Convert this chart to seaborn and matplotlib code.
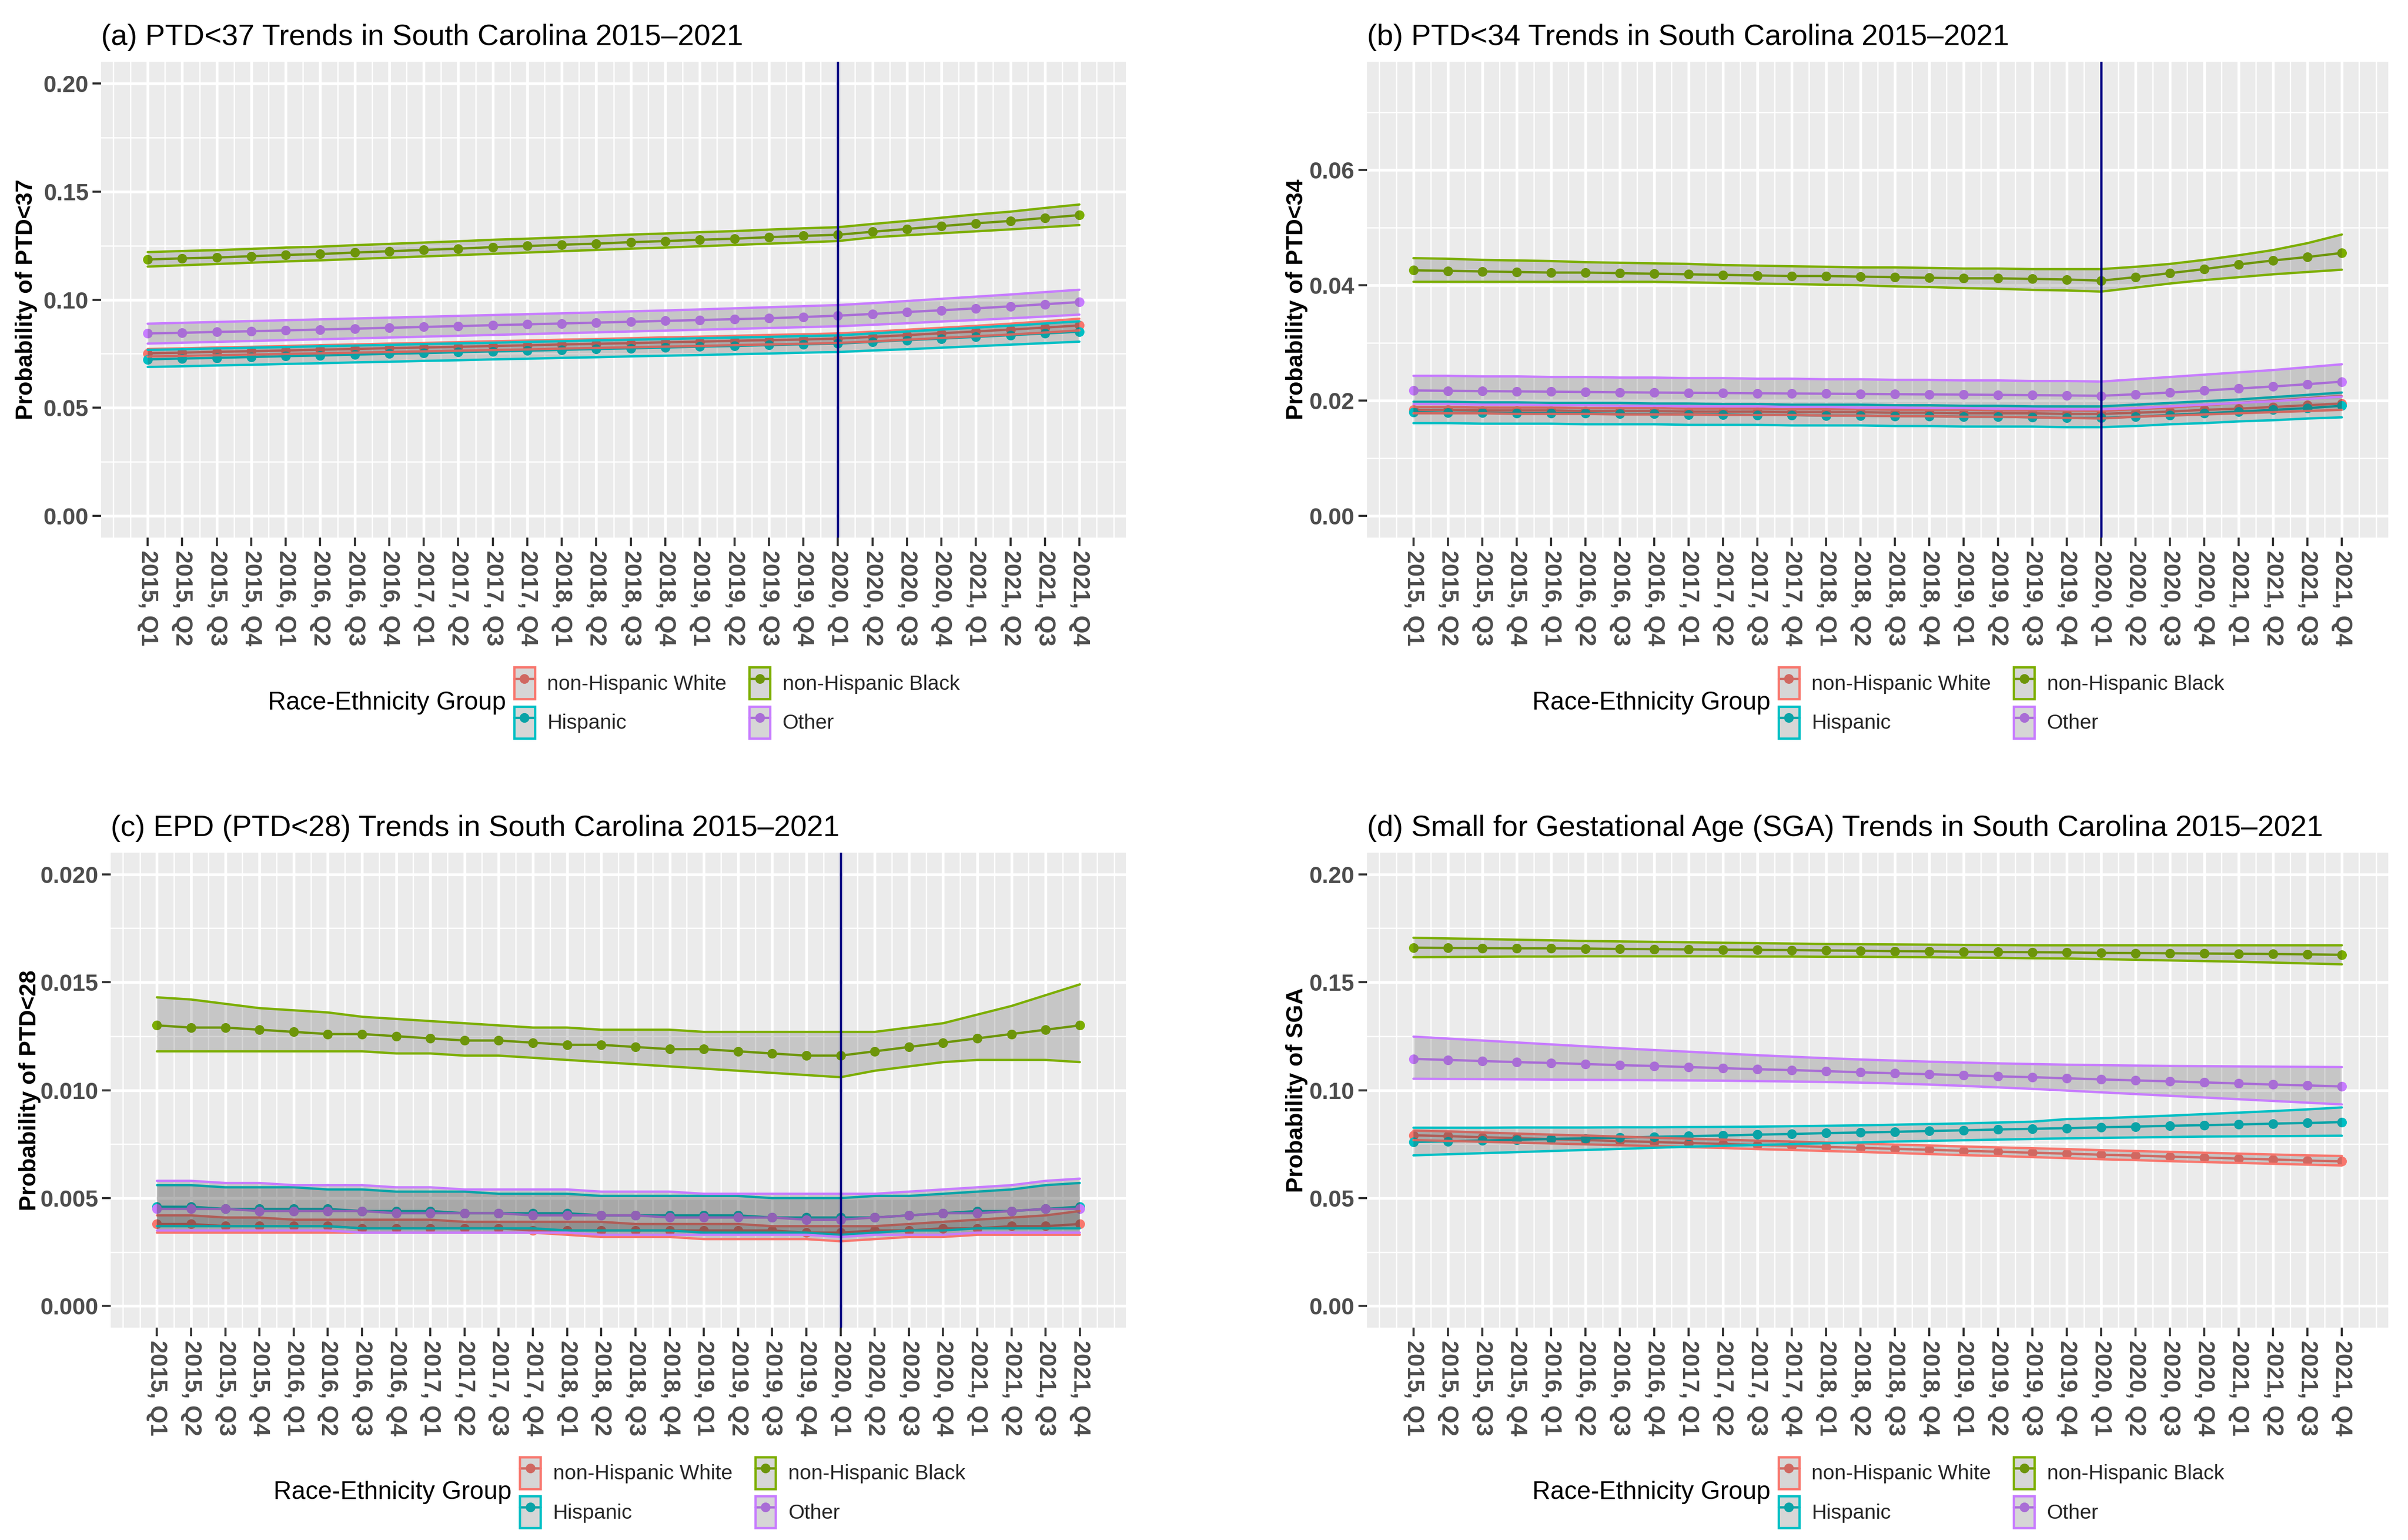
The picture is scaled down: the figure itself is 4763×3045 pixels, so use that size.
import numpy as np
import pandas as pd
import seaborn as sns
import matplotlib.pyplot as plt
from matplotlib.lines import Line2D
from matplotlib.patches import Patch
from matplotlib.ticker import MultipleLocator, FormatStrFormatter

# quarters on the x axis
quarters = ["2015, Q1", "2015, Q2", "2015, Q3", "2015, Q4",
            "2016, Q1", "2016, Q2", "2016, Q3", "2016, Q4",
            "2017, Q1", "2017, Q2", "2017, Q3", "2017, Q4",
            "2018, Q1", "2018, Q2", "2018, Q3", "2018, Q4",
            "2019, Q1", "2019, Q2", "2019, Q3", "2019, Q4",
            "2020, Q1", "2020, Q2", "2020, Q3", "2020, Q4",
            "2021, Q1", "2021, Q2", "2021, Q3", "2021, Q4"]
covid_start = "2020, Q1"

groups = ["non-Hispanic White", "non-Hispanic Black", "Hispanic", "Other"]
colors = ["#F8766D", "#7CAE00", "#00BFC4", "#C77CFF"]
legend_order = ["non-Hispanic White", "Hispanic", "non-Hispanic Black", "Other"]

# ---- (a) PTD<37 ----
a_white = [0.0752, 0.0755, 0.0759, 0.0762, 0.0765, 0.0769, 0.0772, 0.0776, 0.0779, 0.0782, 0.0786, 0.0789, 0.0793, 0.0796,
           0.0799, 0.0803, 0.0806, 0.0810, 0.0813, 0.0816, 0.0820, 0.0828, 0.0836, 0.0845, 0.0853, 0.0862, 0.0871, 0.0881]
a_white_hi = [0.0772, 0.0775, 0.0779, 0.0782, 0.0786, 0.0790, 0.0793, 0.0797, 0.0800, 0.0804, 0.0808, 0.0811, 0.0815, 0.0818,
              0.0822, 0.0826, 0.0829, 0.0833, 0.0837, 0.0840, 0.0844, 0.0852, 0.0861, 0.0870, 0.0879, 0.0889, 0.0900, 0.0912]
a_white_lo = [0.0737, 0.0740, 0.0743, 0.0746, 0.0749, 0.0752, 0.0755, 0.0758, 0.0761, 0.0764, 0.0767, 0.0770, 0.0774, 0.0777,
              0.0780, 0.0783, 0.0786, 0.0790, 0.0793, 0.0796, 0.0800, 0.0807, 0.0815, 0.0823, 0.0831, 0.0839, 0.0848, 0.0858]
a_black = [0.1186, 0.1191, 0.1195, 0.1201, 0.1207, 0.1211, 0.1218, 0.1224, 0.1230, 0.1236, 0.1243, 0.1248, 0.1254, 0.1259,
           0.1266, 0.1271, 0.1277, 0.1282, 0.1289, 0.1295, 0.1300, 0.1314, 0.1327, 0.1340, 0.1353, 0.1364, 0.1378, 0.1391]
a_black_hi = [0.1220, 0.1225, 0.1229, 0.1235, 0.1241, 0.1245, 0.1252, 0.1258, 0.1264, 0.1270, 0.1277, 0.1282, 0.1288, 0.1294,
              0.1301, 0.1306, 0.1312, 0.1317, 0.1324, 0.1330, 0.1335, 0.1350, 0.1364, 0.1379, 0.1394, 0.1407, 0.1424, 0.1440]
a_black_lo = [0.1153, 0.1159, 0.1165, 0.1171, 0.1177, 0.1182, 0.1188, 0.1194, 0.1200, 0.1206, 0.1212, 0.1218, 0.1224, 0.1230,
              0.1236, 0.1241, 0.1247, 0.1253, 0.1259, 0.1265, 0.1271, 0.1288, 0.1298, 0.1307, 0.1316, 0.1325, 0.1335, 0.1345]
a_hisp = [0.0724, 0.0728, 0.0731, 0.0735, 0.0739, 0.0742, 0.0746, 0.0750, 0.0753, 0.0757, 0.0761, 0.0764, 0.0768, 0.0772,
          0.0775, 0.0779, 0.0783, 0.0786, 0.0790, 0.0794, 0.0797, 0.0805, 0.0813, 0.0820, 0.0828, 0.0836, 0.0844, 0.0852]
a_hisp_hi = [0.0768, 0.0771, 0.0775, 0.0778, 0.0781, 0.0785, 0.0788, 0.0791, 0.0795, 0.0798, 0.0801, 0.0805, 0.0808, 0.0812,
             0.0815, 0.0818, 0.0822, 0.0825, 0.0828, 0.0832, 0.0835, 0.0844, 0.0853, 0.0862, 0.0871, 0.0880, 0.0890, 0.0900]
a_hisp_lo = [0.0689, 0.0692, 0.0696, 0.0699, 0.0703, 0.0706, 0.0710, 0.0713, 0.0717, 0.0720, 0.0724, 0.0727, 0.0731, 0.0734,
             0.0738, 0.0741, 0.0744, 0.0748, 0.0751, 0.0755, 0.0758, 0.0765, 0.0771, 0.0778, 0.0785, 0.0792, 0.0799, 0.0806]
a_other = [0.0844, 0.0847, 0.0851, 0.0854, 0.0858, 0.0862, 0.0866, 0.0870, 0.0874, 0.0878, 0.0882, 0.0886, 0.0890, 0.0894,
           0.0898, 0.0902, 0.0906, 0.0910, 0.0914, 0.0920, 0.0926, 0.0934, 0.0943, 0.0951, 0.0960, 0.0969, 0.0979, 0.0989]
a_other_hi = [0.0889, 0.0893, 0.0897, 0.0901, 0.0905, 0.0909, 0.0913, 0.0917, 0.0921, 0.0925, 0.0929, 0.0933, 0.0937, 0.0941,
              0.0946, 0.0950, 0.0955, 0.0960, 0.0965, 0.0970, 0.0975, 0.0984, 0.0994, 0.1004, 0.1014, 0.1024, 0.1035, 0.1046]
a_other_lo = [0.0797, 0.0801, 0.0805, 0.0809, 0.0813, 0.0817, 0.0821, 0.0825, 0.0829, 0.0833, 0.0837, 0.0841, 0.0845, 0.0849,
              0.0853, 0.0857, 0.0861, 0.0865, 0.0869, 0.0873, 0.0877, 0.0884, 0.0891, 0.0899, 0.0906, 0.0914, 0.0922, 0.0931]

# ---- (b) PTD<34 ----
b_white = [0.0184, 0.0184, 0.0183, 0.0183, 0.0183, 0.0182, 0.0182, 0.0182, 0.0181, 0.0181, 0.0181, 0.0180, 0.0180, 0.0180,
           0.0179, 0.0179, 0.0178, 0.0178, 0.0178, 0.0177, 0.0177, 0.0179, 0.0181, 0.0184, 0.0186, 0.0189, 0.0192, 0.0195]
b_white_hi = [0.0189, 0.0189, 0.0188, 0.0188, 0.0188, 0.0187, 0.0187, 0.0187, 0.0186, 0.0186, 0.0186, 0.0185, 0.0185, 0.0185,
              0.0184, 0.0184, 0.0184, 0.0183, 0.0183, 0.0183, 0.0182, 0.0185, 0.0188, 0.0192, 0.0196, 0.0200, 0.0204, 0.0208]
b_white_lo = [0.0178, 0.0178, 0.0178, 0.0177, 0.0177, 0.0177, 0.0176, 0.0176, 0.0176, 0.0175, 0.0175, 0.0175, 0.0174, 0.0174,
              0.0173, 0.0173, 0.0172, 0.0172, 0.0171, 0.0170, 0.0169, 0.0172, 0.0174, 0.0176, 0.0178, 0.0180, 0.0182, 0.0184]
b_black = [0.0426, 0.0425, 0.0424, 0.0423, 0.0422, 0.0422, 0.0421, 0.0420, 0.0419, 0.0418, 0.0417, 0.0416, 0.0416, 0.0415,
           0.0414, 0.0413, 0.0412, 0.0412, 0.0411, 0.0410, 0.0408, 0.0414, 0.0421, 0.0428, 0.0436, 0.0443, 0.0449, 0.0456]
b_black_hi = [0.0447, 0.0446, 0.0444, 0.0443, 0.0442, 0.0440, 0.0439, 0.0438, 0.0437, 0.0435, 0.0434, 0.0433, 0.0432, 0.0431,
              0.0431, 0.0430, 0.0429, 0.0429, 0.0428, 0.0428, 0.0428, 0.0432, 0.0437, 0.0444, 0.0452, 0.0461, 0.0473, 0.0488]
b_black_lo = [0.0406, 0.0406, 0.0406, 0.0406, 0.0406, 0.0406, 0.0406, 0.0406, 0.0405, 0.0404, 0.0403, 0.0402, 0.0401, 0.0400,
              0.0398, 0.0397, 0.0395, 0.0394, 0.0392, 0.0391, 0.0389, 0.0396, 0.0403, 0.0409, 0.0414, 0.0419, 0.0423, 0.0427]
b_hisp = [0.0180, 0.0179, 0.0179, 0.0178, 0.0178, 0.0178, 0.0177, 0.0177, 0.0176, 0.0176, 0.0175, 0.0175, 0.0174, 0.0174,
          0.0173, 0.0173, 0.0172, 0.0172, 0.0171, 0.0170, 0.0170, 0.0172, 0.0175, 0.0178, 0.0181, 0.0184, 0.0187, 0.0191]
b_hisp_hi = [0.0198, 0.0198, 0.0197, 0.0197, 0.0196, 0.0196, 0.0196, 0.0195, 0.0195, 0.0194, 0.0194, 0.0193, 0.0193, 0.0193,
             0.0192, 0.0192, 0.0191, 0.0191, 0.0190, 0.0190, 0.0190, 0.0193, 0.0196, 0.0199, 0.0202, 0.0206, 0.0210, 0.0214]
b_hisp_lo = [0.0161, 0.0161, 0.0160, 0.0160, 0.0160, 0.0159, 0.0159, 0.0159, 0.0158, 0.0158, 0.0158, 0.0157, 0.0157, 0.0157,
             0.0156, 0.0156, 0.0155, 0.0155, 0.0155, 0.0154, 0.0154, 0.0156, 0.0159, 0.0161, 0.0164, 0.0166, 0.0169, 0.0171]
b_other = [0.02176, 0.02170, 0.02165, 0.02160, 0.02155, 0.02150, 0.02145, 0.02140, 0.02136, 0.02132, 0.02128, 0.02124, 0.02120, 0.02116,
           0.02112, 0.02108, 0.02104, 0.02100, 0.02095, 0.02090, 0.02084, 0.02110, 0.02140, 0.02175, 0.02210, 0.02245, 0.02285, 0.02329]
b_other_hi = [0.0243, 0.0243, 0.0242, 0.0242, 0.0241, 0.0241, 0.0240, 0.0240, 0.0239, 0.0239, 0.0238, 0.0238, 0.0237, 0.0237,
              0.0236, 0.0236, 0.0235, 0.0235, 0.0234, 0.0234, 0.0233, 0.0237, 0.0241, 0.0245, 0.0249, 0.0253, 0.0258, 0.0263]
b_other_lo = [0.0194, 0.0194, 0.0193, 0.0193, 0.0192, 0.0192, 0.0191, 0.0191, 0.0190, 0.0190, 0.0190, 0.0189, 0.0189, 0.0188,
              0.0188, 0.0187, 0.0187, 0.0186, 0.0186, 0.0185, 0.0185, 0.0187, 0.0190, 0.0193, 0.0196, 0.0199, 0.0203, 0.0207]

# ---- (c) EPD (PTD<28) ----
c_white = [0.0038, 0.0038, 0.0037, 0.0037, 0.0037, 0.0037, 0.0036, 0.0036, 0.0036, 0.0036, 0.0036, 0.0035, 0.0035, 0.0035,
           0.0035, 0.0035, 0.0035, 0.0035, 0.0035, 0.0034, 0.0034, 0.0035, 0.0035, 0.0036, 0.0036, 0.0037, 0.0037, 0.0038]
c_white_hi = [0.0042, 0.0042, 0.0041, 0.0041, 0.0040, 0.0040, 0.0040, 0.0040, 0.0040, 0.0039, 0.0039, 0.0039, 0.0039, 0.0039,
              0.0038, 0.0038, 0.0038, 0.0038, 0.0037, 0.0037, 0.0037, 0.0037, 0.0038, 0.0039, 0.0040, 0.0041, 0.0042, 0.0044]
c_white_lo = [0.0034, 0.0034, 0.0034, 0.0034, 0.0034, 0.0034, 0.0034, 0.0034, 0.0034, 0.0034, 0.0034, 0.0034, 0.0033, 0.0032,
              0.0032, 0.0032, 0.0031, 0.0031, 0.0031, 0.0031, 0.0030, 0.0031, 0.0032, 0.0032, 0.0033, 0.0033, 0.0033, 0.0033]
c_black = [0.0130, 0.0129, 0.0129, 0.0128, 0.0127, 0.0126, 0.0126, 0.0125, 0.0124, 0.0123, 0.0123, 0.0122, 0.0121, 0.0121,
           0.0120, 0.0119, 0.0119, 0.0118, 0.0117, 0.0116, 0.0116, 0.0118, 0.0120, 0.0122, 0.0124, 0.0126, 0.0128, 0.0130]
c_black_hi = [0.0143, 0.0142, 0.0140, 0.0138, 0.0137, 0.0136, 0.0134, 0.0133, 0.0132, 0.0131, 0.0130, 0.0129, 0.0129, 0.0128,
              0.0128, 0.0128, 0.0127, 0.0127, 0.0127, 0.0127, 0.0127, 0.0127, 0.0129, 0.0131, 0.0135, 0.0139, 0.0144, 0.0149]
c_black_lo = [0.0118, 0.0118, 0.0118, 0.0118, 0.0118, 0.0118, 0.0118, 0.0117, 0.0117, 0.0116, 0.0116, 0.0115, 0.0114, 0.0113,
              0.0112, 0.0111, 0.0110, 0.0109, 0.0108, 0.0107, 0.0106, 0.0109, 0.0111, 0.0113, 0.0114, 0.0114, 0.0114, 0.0113]
c_hisp = [0.0046, 0.0046, 0.0045, 0.0045, 0.0045, 0.0045, 0.0044, 0.0044, 0.0044, 0.0043, 0.0043, 0.0043, 0.0043, 0.0042,
          0.0042, 0.0042, 0.0042, 0.0042, 0.0041, 0.0041, 0.0041, 0.0041, 0.0042, 0.0043, 0.0044, 0.0044, 0.0045, 0.0046]
c_hisp_hi = [0.0056, 0.0056, 0.0055, 0.0055, 0.0055, 0.0054, 0.0054, 0.0053, 0.0053, 0.0053, 0.0052, 0.0052, 0.0052, 0.0051,
             0.0051, 0.0051, 0.0051, 0.0051, 0.0050, 0.0050, 0.0050, 0.0051, 0.0051, 0.0052, 0.0053, 0.0054, 0.0056, 0.0057]
c_hisp_lo = [0.0037, 0.0037, 0.0037, 0.0037, 0.0037, 0.0037, 0.0036, 0.0036, 0.0036, 0.0036, 0.0036, 0.0036, 0.0035, 0.0035,
             0.0035, 0.0035, 0.0034, 0.0034, 0.0034, 0.0034, 0.0033, 0.0034, 0.0035, 0.0035, 0.0036, 0.0036, 0.0036, 0.0036]
c_other = [0.0045, 0.0045, 0.0045, 0.0044, 0.0044, 0.0044, 0.0044, 0.0043, 0.0043, 0.0043, 0.0043, 0.0042, 0.0042, 0.0042,
           0.0042, 0.0041, 0.0041, 0.0041, 0.0041, 0.0040, 0.0040, 0.0041, 0.0042, 0.0043, 0.0043, 0.0044, 0.0045, 0.0045]
c_other_hi = [0.0058, 0.0058, 0.0057, 0.0057, 0.0056, 0.0056, 0.0056, 0.0055, 0.0055, 0.0054, 0.0054, 0.0054, 0.0054, 0.0053,
              0.0053, 0.0053, 0.0052, 0.0052, 0.0052, 0.0052, 0.0052, 0.0052, 0.0053, 0.0054, 0.0055, 0.0056, 0.0058, 0.0059]
c_other_lo = [0.0035, 0.0035, 0.0035, 0.0035, 0.0035, 0.0035, 0.0034, 0.0034, 0.0034, 0.0034, 0.0034, 0.0034, 0.0034, 0.0033,
              0.0033, 0.0033, 0.0033, 0.0033, 0.0033, 0.0033, 0.0032, 0.0033, 0.0033, 0.0033, 0.0034, 0.0034, 0.0034, 0.0034]

# ---- (d) SGA ----
d_white = [0.0791, 0.0787, 0.0782, 0.0778, 0.0773, 0.0769, 0.0764, 0.0760, 0.0755, 0.0751, 0.0746, 0.0742, 0.0737, 0.0733,
           0.0728, 0.0724, 0.0719, 0.0715, 0.0710, 0.0706, 0.0701, 0.0697, 0.0692, 0.0688, 0.0683, 0.0679, 0.0674, 0.0670]
d_white_hi = [0.0813, 0.0809, 0.0804, 0.0799, 0.0794, 0.0790, 0.0785, 0.0780, 0.0775, 0.0771, 0.0766, 0.0762, 0.0757, 0.0753,
              0.0748, 0.0744, 0.0739, 0.0735, 0.0731, 0.0727, 0.0722, 0.0718, 0.0714, 0.0710, 0.0706, 0.0702, 0.0698, 0.0695]
d_white_lo = [0.0769, 0.0765, 0.0761, 0.0757, 0.0753, 0.0749, 0.0745, 0.0741, 0.0736, 0.0732, 0.0727, 0.0723, 0.0718, 0.0714,
              0.0709, 0.0704, 0.0699, 0.0695, 0.0690, 0.0685, 0.0680, 0.0676, 0.0671, 0.0667, 0.0663, 0.0659, 0.0655, 0.0651]
d_black = [0.1660, 0.1659, 0.1658, 0.1657, 0.1657, 0.1656, 0.1654, 0.1653, 0.1652, 0.1651, 0.1650, 0.1649, 0.1647, 0.1646,
           0.1644, 0.1643, 0.1641, 0.1640, 0.1639, 0.1638, 0.1636, 0.1635, 0.1634, 0.1633, 0.1632, 0.1631, 0.1629, 0.1627]
d_black_hi = [0.1706, 0.1703, 0.1700, 0.1697, 0.1694, 0.1691, 0.1689, 0.1687, 0.1685, 0.1683, 0.1681, 0.1679, 0.1677, 0.1676,
              0.1675, 0.1674, 0.1673, 0.1672, 0.1671, 0.1671, 0.1671, 0.1671, 0.1671, 0.1671, 0.1671, 0.1671, 0.1671, 0.1671]
d_black_lo = [0.1616, 0.1617, 0.1618, 0.1619, 0.1619, 0.1620, 0.1620, 0.1620, 0.1620, 0.1620, 0.1619, 0.1619, 0.1618, 0.1618,
              0.1617, 0.1616, 0.1614, 0.1613, 0.1611, 0.1610, 0.1607, 0.1604, 0.1601, 0.1598, 0.1595, 0.1591, 0.1587, 0.1583]
d_hisp = [0.0760, 0.0763, 0.0767, 0.0770, 0.0774, 0.0777, 0.0780, 0.0784, 0.0787, 0.0790, 0.0794, 0.0797, 0.0801, 0.0804,
          0.0807, 0.0811, 0.0814, 0.0818, 0.0821, 0.0824, 0.0828, 0.0831, 0.0835, 0.0838, 0.0841, 0.0845, 0.0848, 0.0852]
d_hisp_hi = [0.0826, 0.0826, 0.0826, 0.0827, 0.0827, 0.0827, 0.0828, 0.0828, 0.0829, 0.0830, 0.0831, 0.0833, 0.0835, 0.0837,
             0.0840, 0.0843, 0.0846, 0.0850, 0.0854, 0.0866, 0.0870, 0.0876, 0.0882, 0.0889, 0.0896, 0.0903, 0.0911, 0.0920]
d_hisp_lo = [0.0698, 0.0703, 0.0708, 0.0713, 0.0718, 0.0723, 0.0728, 0.0733, 0.0738, 0.0742, 0.0746, 0.0750, 0.0754, 0.0758,
             0.0762, 0.0765, 0.0768, 0.0771, 0.0774, 0.0777, 0.0779, 0.0781, 0.0783, 0.0785, 0.0786, 0.0787, 0.0788, 0.0789]
d_other = [0.1145, 0.1140, 0.1135, 0.1130, 0.1126, 0.1121, 0.1116, 0.1112, 0.1107, 0.1102, 0.1097, 0.1093, 0.1088, 0.1083,
           0.1078, 0.1074, 0.1069, 0.1064, 0.1060, 0.1055, 0.1050, 0.1045, 0.1041, 0.1036, 0.1031, 0.1026, 0.1022, 0.1017]
d_other_hi = [0.1248, 0.1239, 0.1230, 0.1221, 0.1212, 0.1203, 0.1194, 0.1186, 0.1178, 0.1170, 0.1162, 0.1155, 0.1148, 0.1142,
              0.1137, 0.1132, 0.1128, 0.1124, 0.1121, 0.1118, 0.1116, 0.1114, 0.1112, 0.1111, 0.1110, 0.1109, 0.1108, 0.1107]
d_other_lo = [0.1053, 0.1052, 0.1051, 0.1050, 0.1049, 0.1048, 0.1047, 0.1046, 0.1045, 0.1044, 0.1042, 0.1040, 0.1038, 0.1035,
              0.1031, 0.1026, 0.1020, 0.1013, 0.1006, 0.0998, 0.0990, 0.0982, 0.0974, 0.0966, 0.0958, 0.0950, 0.0942, 0.0934]

panels = [
    dict(title="(a) PTD<37 Trends in South Carolina 2015–2021", ylab="Probability of PTD<37",
         est=[a_white, a_black, a_hisp, a_other], lo=[a_white_lo, a_black_lo, a_hisp_lo, a_other_lo],
         hi=[a_white_hi, a_black_hi, a_hisp_hi, a_other_hi], ymax=0.20, step=0.05, fmt="%.2f", vline=True,
         pos=[0.0420, 0.6509, 0.4256, 0.3090], ylx=-0.062),
    dict(title="(b) PTD<34 Trends in South Carolina 2015–2021", ylab="Probability of PTD<34",
         est=[b_white, b_black, b_hisp, b_other], lo=[b_white_lo, b_black_lo, b_hisp_lo, b_other_lo],
         hi=[b_white_hi, b_black_hi, b_hisp_hi, b_other_hi], ymax=0.075, step=0.02, fmt="%.2f", vline=True,
         pos=[0.5677, 0.6509, 0.4241, 0.3090], ylx=-0.058),
    dict(title="(c) EPD (PTD<28) Trends in South Carolina 2015–2021", ylab="Probability of PTD<28",
         est=[c_white, c_black, c_hisp, c_other], lo=[c_white_lo, c_black_lo, c_hisp_lo, c_other_lo],
         hi=[c_white_hi, c_black_hi, c_hisp_hi, c_other_hi], ymax=0.020, step=0.005, fmt="%.3f", vline=True,
         pos=[0.0460, 0.1379, 0.4216, 0.3084], ylx=-0.069),
    dict(title="(d) Small for Gestational Age (SGA) Trends in South Carolina 2015–2021", ylab="Probability of SGA",
         est=[d_white, d_black, d_hisp, d_other], lo=[d_white_lo, d_black_lo, d_hisp_lo, d_other_lo],
         hi=[d_white_hi, d_black_hi, d_hisp_hi, d_other_hi], ymax=0.20, step=0.05, fmt="%.2f", vline=False,
         pos=[0.5677, 0.1379, 0.4241, 0.3084], ylx=-0.058),
]

sns.set_theme(style="darkgrid", rc={"axes.facecolor": "#EBEBEB", "grid.color": "white",
                                    "axes.edgecolor": "#EBEBEB"})
plt.rcParams["font.family"] = ["Liberation Sans", "DejaVu Sans"]

pal = dict(zip(groups, colors))
ribbon_fill = (0.2, 0.2, 0.2, 0.2)
x = np.arange(1, len(quarters) + 1)

fig = plt.figure(figsize=(4763 / 300, 3045 / 300), dpi=300)

for p in panels:
    ax = fig.add_axes(p["pos"])
    frames = []
    for g, e, l, h in zip(groups, p["est"], p["lo"], p["hi"]):
        frames.append(pd.DataFrame({"t": x, "prob": e, "lo": l, "hi": h, "group": g}))
    df = pd.concat(frames, ignore_index=True)

    sns.lineplot(data=df, x="t", y="prob", hue="group", hue_order=groups, palette=pal,
                 marker="o", markersize=4.6, markeredgewidth=0, linewidth=1.1,
                 legend=False, ax=ax, zorder=3)

    # confidence ribbons drawn over lines/points, like the ggplot layer order
    for i, g in enumerate(groups):
        d = df[df["group"] == g]
        ax.fill_between(d["t"], d["lo"], d["hi"], facecolor=ribbon_fill, edgecolor="none", zorder=4 + i)
        ax.plot(d["t"], d["lo"], color=pal[g], lw=1.1, zorder=4 + i)
        ax.plot(d["t"], d["hi"], color=pal[g], lw=1.1, zorder=4 + i)

    if p["vline"]:
        ax.axvline(quarters.index(covid_start) + 1, color="#000080", lw=1.1, zorder=10)

    # axes, ggplot-style
    span = len(quarters) - 1
    ax.set_xlim(1 - 0.05 * span, len(quarters) + 0.05 * span)
    ax.set_ylim(-0.05 * p["ymax"], 1.05 * p["ymax"])
    ax.set_xticks(x)
    ax.set_xticklabels(quarters, rotation=270, ha="center", va="top")
    ax.xaxis.set_minor_locator(MultipleLocator(0.5))
    ax.yaxis.set_major_locator(MultipleLocator(p["step"]))
    ax.yaxis.set_minor_locator(MultipleLocator(p["step"] / 2))
    ax.yaxis.set_major_formatter(FormatStrFormatter(p["fmt"]))
    ax.grid(which="major", color="white", lw=1.3)
    ax.grid(which="minor", color="white", lw=0.6)
    for s in ax.spines.values():
        s.set_visible(False)
    ax.tick_params(which="major", length=4, width=1.0, color="#333333", labelsize=11.0,
                   labelcolor="#4D4D4D", pad=2, bottom=True, left=True)
    ax.tick_params(which="minor", length=0)
    for lab in ax.get_xticklabels() + ax.get_yticklabels():
        lab.set_fontweight("bold")

    ax.set_xlabel("")
    ax.set_ylabel(p["ylab"], fontsize=11, fontweight="bold", color="black")
    ax.yaxis.set_label_coords(p["ylx"], 0.5)
    ax.set_title(p["title"], loc="left", fontsize=14, color="black", pad=8)

    # legend below the panel, title on the left
    handles = []
    for g in legend_order:
        ln = Line2D([], [], color=pal[g], lw=1.1, marker="o", markersize=4.6, markeredgewidth=0)
        box = Patch(facecolor=ribbon_fill, edgecolor=pal[g], lw=1.1)
        handles.append((ln, box))
    ax.legend(handles, legend_order, loc="center left", bbox_to_anchor=(0.403, -0.347), ncol=2,
              frameon=False, fontsize=9.8, handlelength=1.0, handleheight=2.0, labelspacing=0.35,
              columnspacing=1.1, handletextpad=0.6, borderaxespad=0, borderpad=0)
    ax.text(0.395, -0.347, "Race-Ethnicity Group", transform=ax.transAxes, ha="right", va="center",
            fontsize=11.9, color="black")

fig.savefig("out.png", dpi=300, facecolor="white")
